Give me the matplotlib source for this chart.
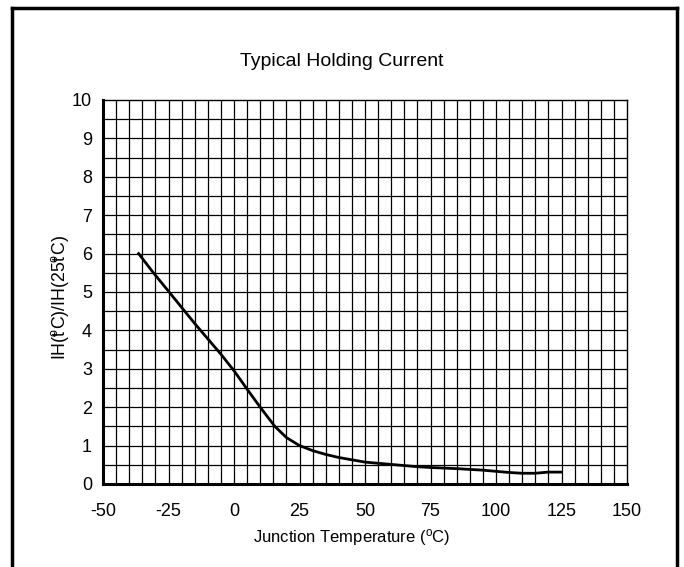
import numpy as np
import matplotlib
matplotlib.use("Agg")
import matplotlib.pyplot as plt
from matplotlib.lines import Line2D

plt.rcParams['font.family'] = ['Liberation Sans', 'DejaVu Sans']
plt.rcParams['mathtext.fontset'] = 'custom'
plt.rcParams['mathtext.rm'] = 'Liberation Sans'
plt.rcParams['mathtext.it'] = 'Liberation Sans'

# datos
temp = [-36.4, -31, -25, -20, -15, -10, -5, 0, 5, 10, 15.6, 20, 25, 30,
        35, 40, 45, 50, 55, 60, 65, 70, 75, 85, 95, 100, 105, 110, 115, 120, 125]
ih = [6.0, 5.52, 5.02, 4.6, 4.18, 3.78, 3.38, 2.95, 2.47, 2.0, 1.5, 1.21, 1.0, 0.87,
      0.77, 0.69, 0.63, 0.57, 0.54, 0.51, 0.48, 0.45, 0.43, 0.40, 0.36, 0.33,
      0.30, 0.28, 0.28, 0.31, 0.31]

x_ticks = [-50, -25, 0, 25, 50, 75, 100, 125, 150]
y_ticks = [0, 1, 2, 3, 4, 5, 6, 7, 8, 9, 10]

fig = plt.figure(figsize=(6.84, 5.67), dpi=100)
ax = fig.add_axes([103/684, 1-484/567, 524/684, 384/567])

# rejilla
for xv in np.arange(-45, 150, 5):
    ax.axvline(xv, color='black', lw=0.9, zorder=1)
for yv in np.arange(0.5, 10, 0.5):
    ax.axhline(yv, color='black', lw=0.9, zorder=1)

ax.plot(temp, ih, color='black', lw=2, zorder=3)

ax.set_xlim(-50, 150)
ax.set_ylim(0, 10)
ax.set_xticks(x_ticks)
ax.set_xticklabels([str(v) for v in x_ticks])
ax.set_yticks(y_ticks)
ax.tick_params(axis='both', length=0, labelsize=13)
ax.tick_params(axis='x', pad=14)
ax.tick_params(axis='y', pad=8)

ax.spines['left'].set_linewidth(2.2)
ax.spines['bottom'].set_linewidth(2.2)
ax.spines['top'].set_linewidth(1.0)
ax.spines['right'].set_linewidth(1.0)

ax.set_xlabel('Junction Temperature ($^{o}$C)', fontsize=12)
ax.xaxis.set_label_coords((352-103)/524, -(527-484)/384)
ax.set_ylabel(r'IH(t$^{\!\!\!o}$C)/IH(25t$^{\!\!\!o}$C)', fontsize=12.8)
ax.yaxis.set_label_coords((71-103)/524, (484-297)/384)
fig.text(0.5, 1-62/567, 'Typical Holding Current', ha='center', va='center',
         fontsize=14)

# marco exterior
fig.add_artist(Line2D([12/684, 12/684], [0, 1-7.5/567], color='black', lw=2.5,
                      transform=fig.transFigure))
fig.add_artist(Line2D([12/684, 677/684], [1-7.5/567, 1-7.5/567], color='black',
                      lw=2.5, transform=fig.transFigure))
fig.add_artist(Line2D([677/684, 677/684], [0, 1-7.5/567], color='black', lw=2.5,
                      transform=fig.transFigure))

fig.savefig('out.png', dpi=100)
